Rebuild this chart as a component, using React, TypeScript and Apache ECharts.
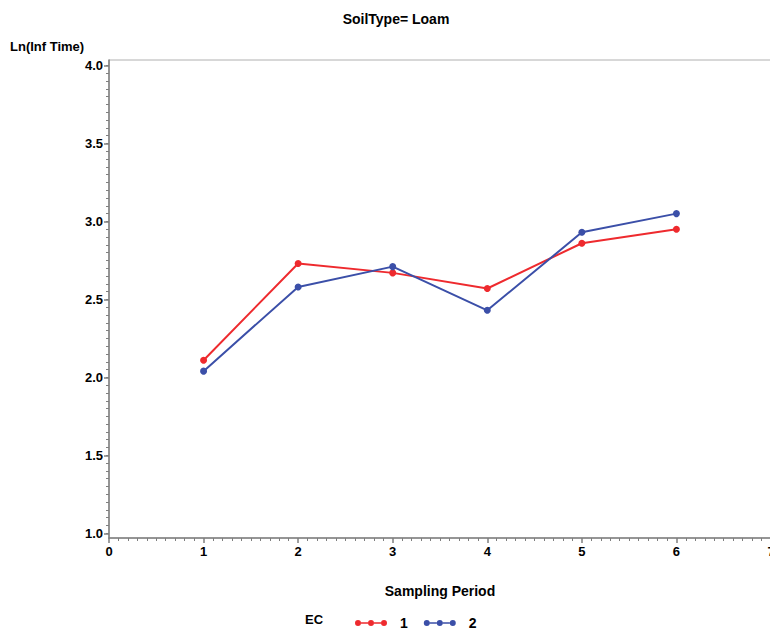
import React, { useEffect, useRef } from "react";
import * as echarts from "echarts";

const periods = [1, 2, 3, 4, 5, 6];
const ec1 = [2.11, 2.73, 2.67, 2.57, 2.86, 2.95];
const ec2 = [2.04, 2.58, 2.71, 2.43, 2.93, 3.05];
const yMajorTicks = [1.0, 1.5, 2.0, 2.5, 3.0, 3.5, 4.0];
const seriesNames = ["1", "2"];
const colors = ["#EE2A2E", "#3B4FA8"];

const legendIcon =
  "path://M0,4a3,3 0 1,0 6,0a3,3 0 1,0 -6,0Z M6,3.2H13V4.8H6Z M13,4a3,3 0 1,0 6,0a3,3 0 1,0 -6,0Z M19,3.2H26V4.8H19Z M26,4a3,3 0 1,0 6,0a3,3 0 1,0 -6,0Z";

export default function App() {
  const ref = useRef<HTMLDivElement>(null);
  useEffect(() => {
    if (!ref.current) return;
    const chart = echarts.init(ref.current, null, { renderer: "svg" });
    const minorY: number[] = [];
    for (let i = 0; i <= 60; i++) minorY.push(Math.round((1 + i * 0.05) * 100) / 100);
    const font = "'Liberation Sans', Arial, sans-serif";
    const axisColor = "#7f7f7f";
    chart.setOption({
      animation: false,
      backgroundColor: "#ffffff",
      textStyle: { fontFamily: font },
      title: {
        text: "SoilType= Loam",
        left: 391,
        textAlign: "center",
        top: 7,
        textStyle: { fontSize: 14, fontWeight: "bold", color: "#000", fontFamily: font },
      },
      legend: {
        left: 350,
        top: 611,
        itemWidth: 32,
        itemHeight: 8,
        itemGap: 16,
        data: seriesNames.map((n, i) => ({ name: n, icon: legendIcon, itemStyle: { color: colors[i] } })),
        textStyle: { fontSize: 14, fontWeight: "bold", color: "#000", fontFamily: font, padding: [0, 0, 0, 8] },
      },
      graphic: [
        {
          type: "text",
          left: 10,
          top: 40,
          style: { text: "Ln(Inf Time)", fontSize: 13, fontWeight: "bold", fill: "#000", fontFamily: font },
        },
        {
          type: "text",
          left: 305,
          top: 613,
          style: { text: "EC", fontSize: 13, fontWeight: "bold", fill: "#000", fontFamily: font },
        },
      ],
      grid: {
        left: 109,
        width: 662,
        top: 60,
        bottom: 92,
        show: true,
        borderColor: "#b0b0b0",
        borderWidth: 1,
        backgroundColor: "transparent",
        containLabel: false,
        outerBoundsMode: "none",
      },
      xAxis: {
        type: "value",
        min: 0,
        max: 7,
        interval: 1,
        name: "Sampling Period",
        nameLocation: "middle",
        nameGap: 46,
        nameTextStyle: { fontSize: 14, fontWeight: "bold", color: "#000", fontFamily: font },
        axisLine: { show: true, lineStyle: { color: axisColor, width: 1.5 } },
        axisTick: { show: true, length: 5, lineStyle: { color: axisColor, width: 1.5 } },
        minorTick: { show: true, splitNumber: 10, length: 3, lineStyle: { color: axisColor, width: 1 } },
        axisLabel: { fontSize: 13, fontWeight: "bold", color: "#000", margin: 7, fontFamily: font },
        splitLine: { show: false },
        minorSplitLine: { show: false },
      },
      yAxis: [
        {
          type: "value",
          min: 0.97,
          max: 4.035,
          position: "left",
          axisLine: { show: true, lineStyle: { color: axisColor, width: 1.5 } },
          axisTick: { show: true, length: 5, customValues: yMajorTicks, lineStyle: { color: axisColor, width: 1.5 } },
          axisLabel: {
            customValues: yMajorTicks,
            formatter: (v: number) => v.toFixed(1),
            fontSize: 13,
            fontWeight: "bold",
            color: "#000",
            margin: 6,
            fontFamily: font,
          },
          splitLine: { show: false },
        },
        {
          type: "value",
          min: 0.97,
          max: 4.035,
          position: "left",
          axisLine: { show: false },
          axisTick: { show: true, length: 3, customValues: minorY, lineStyle: { color: axisColor, width: 1 } },
          axisLabel: { show: false },
          splitLine: { show: false },
        },
      ],
      series: [ec1, ec2].map((vals, i) => ({
        name: seriesNames[i],
        type: "line",
        yAxisIndex: 0,
        data: periods.map((p, j) => [p, vals[j]]),
        symbol: "circle",
        symbolSize: 7,
        lineStyle: { color: colors[i], width: 2 },
        itemStyle: { color: colors[i] },
        z: i === 1 ? 3 : 2,
      })),
    });
    return () => chart.dispose();
  }, []);
  return <div ref={ref} style={{ width: 770, height: 630, position: "absolute", left: 0, top: 0 }} />;
}
